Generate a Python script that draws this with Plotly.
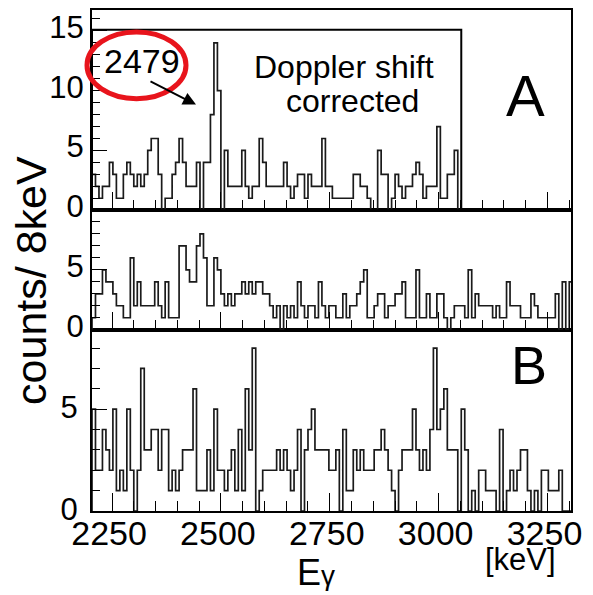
import plotly.graph_objects as go

# ---------------- data (counts per 8 keV bin) ----------------
E0 = 2204          # lower edge of first bin [keV]
BIN = 8            # bin width [keV]

# panel A inset: Doppler-shift corrected spectrum (bins from E0 up to ~3052 keV)
top_counts = [3, 2, 1, 2, 2, 4, 3, 1, 1, 3, 4, 3, 2, 3, 2, 3, 5, 6, 6, 3,
              0, 1, 1, 3, 4, 6, 4, 2, 2, 2, 4, 0, 4, 4, 8, 14, 10, 0, 5, 2,
              2, 2, 2, 5, 2, 1, 2, 2, 6, 4, 2, 2, 2, 2, 2, 4, 2, 1, 2, 3,
              3, 1, 3, 2, 2, 2, 6, 2, 2, 1, 1, 1, 1, 1, 1, 3, 3, 2, 2, 1,
              0, 0, 5, 3, 3, 0, 1, 3, 2, 1, 2, 2, 3, 4, 3, 1, 2, 2, 2, 7,
              1, 1, 3, 3, 5, 0]

# panel A main spectrum
mid_counts = [1, 3, 3, 5, 4, 4, 3, 2, 2, 1, 1, 6, 2, 4, 2, 2, 2, 2, 4, 2,
              1, 4, 1, 1, 1, 7, 7, 5, 4, 4, 7, 8, 6, 2, 2, 6, 5, 3, 2, 3,
              2, 3, 3, 4, 3, 4, 3, 4, 4, 3, 3, 2, 1, 2, 0, 2, 1, 2, 1, 4,
              2, 1, 2, 2, 1, 4, 2, 1, 2, 2, 1, 1, 3, 1, 2, 2, 3, 4, 5, 1,
              1, 2, 3, 3, 1, 2, 2, 3, 3, 4, 1, 1, 1, 5, 1, 1, 3, 1, 1, 3,
              3, 1, 0, 1, 2, 2, 2, 1, 5, 1, 3, 2, 2, 2, 2, 1, 2, 1, 1, 4,
              2, 2, 2, 1, 1, 1, 3, 2, 1, 1, 1, 1, 1, 3, 0, 4, 0, 4]

# panel B spectrum
bot_counts = [5, 2, 2, 4, 3, 2, 5, 1, 2, 1, 5, 2, 0, 2, 7, 3, 3, 4, 4, 2,
              4, 4, 1, 2, 1, 2, 3, 3, 3, 6, 1, 1, 1, 3, 1, 5, 2, 2, 1, 2,
              3, 1, 4, 1, 6, 3, 8, 0, 1, 2, 2, 2, 2, 3, 2, 3, 2, 1, 2, 4,
              0, 3, 4, 5, 3, 3, 3, 3, 2, 2, 3, 0, 4, 1, 1, 3, 2, 3, 2, 2,
              2, 3, 3, 4, 3, 2, 1, 0, 2, 3, 3, 3, 5, 3, 2, 3, 2, 4, 8, 4,
              5, 6, 3, 3, 3, 0, 5, 3, 0, 1, 0, 2, 2, 1, 1, 1, 0, 4, 0, 1,
              2, 1, 2, 3, 3, 1, 0, 1, 0, 2, 2, 1, 1, 1, 2, 0, 0, 0]

x_ticks = [2250, 2500, 2750, 3000, 3250]
peak_label = "2479"
INSET_YMAX = 15.1


def step(counts):
    xs = [E0 + BIN * i for i in range(len(counts) + 1)]
    ys = list(counts) + [counts[-1]]
    return [E0] + xs, [0] + ys


FONT = "Liberation Sans, Arial, sans-serif"
LINE = dict(color="#1a1a1a", width=1.7)

fig = go.Figure()
for counts, xa, ya in [(bot_counts, "x", "y"), (mid_counts, "x2", "y2"), (top_counts, "x3", "y3")]:
    xs, ys = step(counts)
    fig.add_trace(go.Scatter(x=xs, y=ys, mode="lines", line=dict(shape="hv", **LINE),
                             xaxis=xa, yaxis=ya, showlegend=False, hoverinfo="skip"))

XR = [E0, E0 + 1100]
xcommon = dict(range=XR, showgrid=False, zeroline=False, showline=True, mirror=True,
               linecolor="black", linewidth=2, ticks="inside", ticklen=18, tickwidth=1.2,
               tickcolor="black", tickmode="array", tickvals=x_ticks,
               ticktext=[str(v) for v in x_ticks],
               minor=dict(ticks="inside", ticklen=10, tickwidth=1.2, tickcolor="black",
                          tick0=2200, dtick=50, showgrid=False))
ycommon = dict(showgrid=False, zeroline=False, showline=True, mirror=True,
               linecolor="black", linewidth=2, ticks="inside", ticklen=15, tickwidth=1.2,
               tickcolor="black", tickmode="linear", tick0=0, dtick=5,
               tickfont=dict(family=FONT, size=31, color="black"),
               minor=dict(ticks="inside", ticklen=8, tickwidth=1.2, tickcolor="black",
                          dtick=1, showgrid=False))

d1 = (511 - 329) / 503
d2 = (511 - 209) / 503

fig.update_layout(
    width=593, height=595,
    margin=dict(l=92, r=22, t=8, b=84),
    paper_bgcolor="white", plot_bgcolor="white",
    xaxis=dict(anchor="y", tickfont=dict(family=FONT, size=34, color="black"),
               ticklabelshift=-3, ticklabelstandoff=-9, **xcommon),
    xaxis2=dict(anchor="y2", matches="x", showticklabels=False, **xcommon),
    xaxis3=dict(anchor="y3", matches="x", showticklabels=False, **xcommon),
    yaxis=dict(domain=[0, d1], range=[0, 8.9], anchor="x", ticklabelshift=-2,
               ticklabelstandoff=6, **ycommon),
    yaxis2=dict(domain=[d1, d2], range=[0, 9.98], anchor="x2", ticklabelshift=-4, **ycommon),
    yaxis3=dict(domain=[d2, 1], range=[0, 16.75], anchor="x3", ticklabelshift=-4, **ycommon),
)

# inset frame of the Doppler-corrected spectrum
fig.add_shape(type="rect", xref="x3", yref="y3", x0=E0, x1=E0 + BIN * len(top_counts),
              y0=0, y1=INSET_YMAX, line=dict(color="black", width=2))


def px(X):
    return (X - 92) / 479


def py(Y):
    return (511 - Y) / 503


# red ellipse around the peak label
fig.add_shape(type="circle", xref="paper", yref="paper", x0=px(87), x1=px(186),
              y0=py(97), y1=py(30), line=dict(color="#e8141c", width=5))


def label(text, X, Y, size, **kw):
    return dict(text=text, x=px(X), y=py(Y), xref="paper", yref="paper",
                xanchor="center", yanchor="middle", showarrow=False,
                font=dict(family=FONT, size=size, color="black"), **kw)


ann = [
    label(peak_label, 142, 59, 34),
    dict(text="", x=px(196), y=py(103), xref="paper", yref="paper",
         showarrow=True, ax=-47, ay=-24, arrowhead=2, arrowsize=1.3,
         arrowwidth=2, arrowcolor="black"),
    label("Doppler shift", 344, 65, 32),
    label("corrected", 352, 99, 32),
    label("A", 525, 94, 58),
    label("B", 529, 364, 54),
    label("counts/ 8keV", 31, 280, 43, textangle=-90),
    label("[keV]", 520, 560, 31),
    label("E<span style='font-size:28px'>γ</span>", 316, 573, 36),
]
fig.update_layout(annotations=ann)

fig.write_html("out.html")
